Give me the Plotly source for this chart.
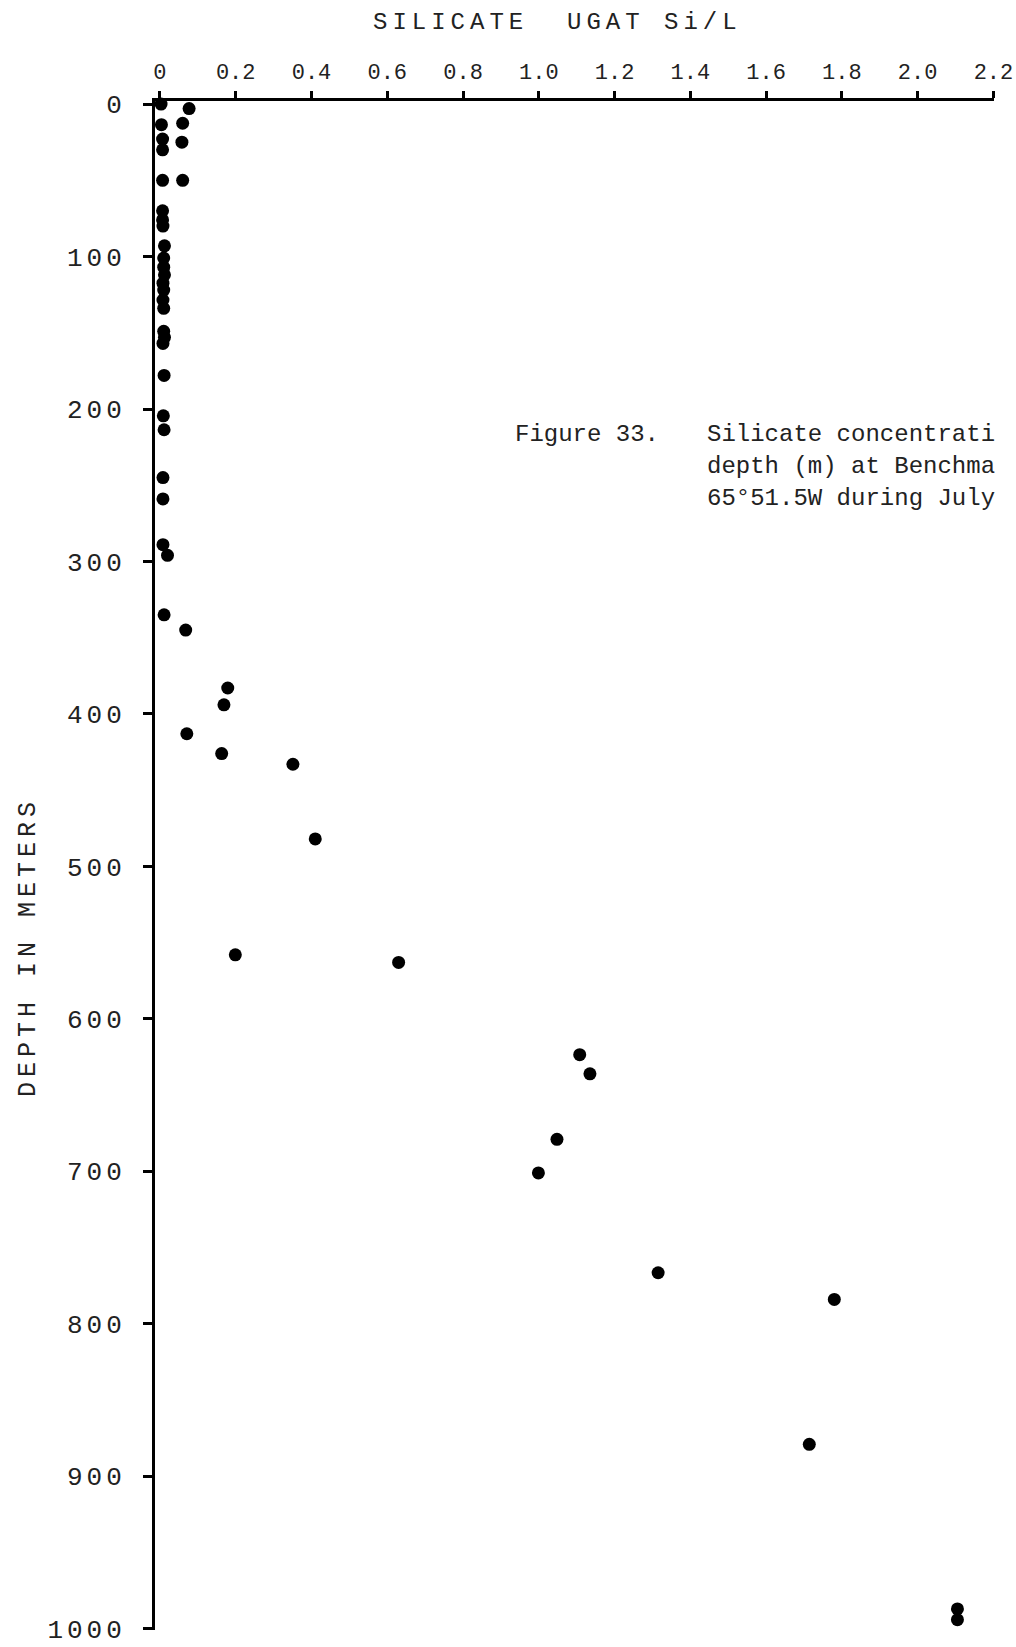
import plotly.graph_objects as go

# ---- data ----
depth_m = [0, 3, 12.6, 13.5, 23, 25, 30, 50, 50, 70, 76, 80, 93,
           101, 107, 112, 117.5, 122, 128.5, 134, 149, 153, 157, 178,
           204.5, 213.6, 245, 259, 289, 296, 335, 345,
           383, 394, 413, 426, 433, 482, 558, 563,
           623.5, 636, 679, 701, 766.5, 784, 879, 987, 994]
silicate = [0.003, 0.077, 0.06, 0.004, 0.007, 0.058, 0.007, 0.007, 0.06, 0.007, 0.007, 0.008, 0.012,
            0.01, 0.01, 0.012, 0.008, 0.01, 0.008, 0.01, 0.01, 0.012, 0.008, 0.011,
            0.009, 0.011, 0.008, 0.008, 0.008, 0.02, 0.011, 0.068,
            0.179, 0.169, 0.071, 0.163, 0.351, 0.41, 0.199, 0.63,
            1.108, 1.135, 1.048, 0.999, 1.315, 1.78, 1.714, 2.105, 2.105]

x_tick_vals = [0, 0.2, 0.4, 0.6, 0.8, 1.0, 1.2, 1.4, 1.6, 1.8, 2.0, 2.2]
x_tick_text = ["0", "0.2", "0.4", "0.6", "0.8", "1.0", "1.2", "1.4", "1.6", "1.8", "2.0", "2.2"]
y_tick_vals = [0, 100, 200, 300, 400, 500, 600, 700, 800, 900, 1000]

title_text = "SILICATE\u00a0\u00a0UGAT Si/L"
y_label = "DEPTH IN METERS"
caption_fig = "Figure 33."
caption_lines = ["Silicate concentrati", "depth (m) at Benchma", "65°51.5W during July"]

FONT = "Liberation Mono, Courier New, monospace"


def spaced(s, px):
    return f"<span style='letter-spacing:{px}px'>{s}</span>"


W, H = 1016, 1647
L, R, T, B = 155, 22, 101, 17
PW, PH = W - L - R, H - T - B


def px_x(px):
    return (px - L) / PW


def px_y(py):
    return 1 - (py - T) / PH


fig = go.Figure()
fig.add_trace(go.Scatter(
    x=silicate, y=depth_m, mode="markers",
    marker=dict(color="#000000", size=13, line=dict(width=0)),
    cliponaxis=False, showlegend=False, hoverinfo="skip"))

fig.update_layout(
    width=W, height=H,
    margin=dict(l=L, r=R, t=T, b=B, pad=0, autoexpand=False),
    paper_bgcolor="white", plot_bgcolor="white",
    font=dict(family=FONT, color="#111111"),
    xaxis=dict(
        side="top", range=[-0.013, 2.2015], automargin=False,
        tickmode="array", tickvals=x_tick_vals, ticktext=x_tick_text,
        ticks="outside", ticklen=7, tickwidth=2.5, tickcolor="#000",
        showline=True, linewidth=3, linecolor="#000",
        showgrid=False, zeroline=False,
        tickfont=dict(size=22, family=FONT, color="#222"),
        ticklabelstandoff=3, ticklabeloverflow="allow",
    ),
    yaxis=dict(
        range=[1000.8, -2], automargin=False,
        tickmode="array", tickvals=y_tick_vals,
        ticktext=[spaced(str(v), 4) for v in y_tick_vals],
        ticks="outside", ticklen=9, tickwidth=3, tickcolor="#000",
        showline=True, linewidth=3, linecolor="#000",
        showgrid=False, zeroline=False,
        tickfont=dict(size=26, family=FONT, color="#222"),
        ticklabelstandoff=12, ticklabeloverflow="allow",
    ),
    annotations=[
        dict(text=spaced(title_text, 5), xref="paper", yref="paper",
             x=px_x(557), y=px_y(23), xanchor="center", yanchor="middle",
             showarrow=False, font=dict(size=24, family=FONT, color="#222")),
        dict(text=spaced(y_label, 5), xref="paper", yref="paper",
             x=px_x(28), y=px_y(947), xanchor="center", yanchor="middle",
             textangle=-90, showarrow=False,
             font=dict(size=25, family=FONT, color="#222")),
        dict(text=caption_fig, xref="paper", yref="paper",
             x=px_x(513), y=px_y(434), xanchor="left", yanchor="middle",
             showarrow=False, font=dict(size=24, family=FONT, color="#222")),
    ] + [
        dict(text=line, xref="paper", yref="paper",
             x=px_x(705), y=px_y(434 + 32 * i), xanchor="left", yanchor="middle",
             showarrow=False, font=dict(size=24, family=FONT, color="#222"))
        for i, line in enumerate(caption_lines)
    ],
)

fig.write_html("out.html",
               config={"displayModeBar": False},
               post_script="document.body.style.margin='0';document.body.style.overflow='hidden';")
